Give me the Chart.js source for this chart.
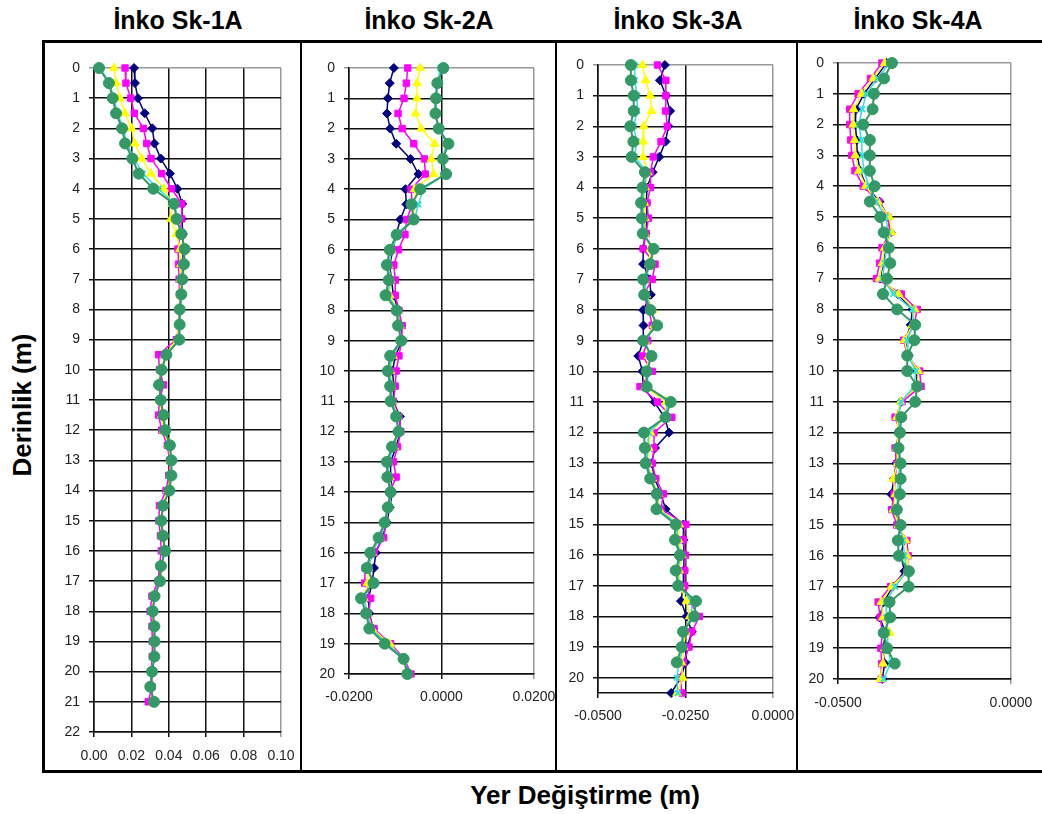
<!DOCTYPE html>
<html lang="tr">
<head>
<meta charset="utf-8">
<title>İnko Sk profilleri</title>
<script src="https://cdn.jsdelivr.net/npm/chart.js@4.4.1/dist/chart.umd.min.js"></script>
<style>
  body { margin: 0; background: #fff; font-family: 'Liberation Sans', Arial, sans-serif; }
  #page { position: relative; width: 1042px; height: 814px; overflow: hidden; }
  .frame { position: absolute; left: 42px; top: 40px; width: 1100px; height: 727px; border: 3px solid #000; }
  .sep { position: absolute; top: 42px; width: 2px; height: 730px; background: #000; }
  .title { position: absolute; top: 5px; width: 240px; text-align: center; font-weight: bold; font-size: 25px; line-height: 30px; color: #000; }
  .ylabel { position: absolute; left: -88px; top: 390px; width: 220px; text-align: center; font-weight: bold; font-size: 26px; line-height: 30px; transform: rotate(-90deg); }
  .xlabel { position: absolute; left: 385px; top: 779px; width: 400px; text-align: center; font-weight: bold; font-size: 26px; line-height: 32px; }
  canvas { position: absolute; }
</style>
</head>
<body>
<div id="page">
  <div class="frame"></div>
  <div class="sep" style="left:300px"></div>
  <div class="sep" style="left:555px"></div>
  <div class="sep" style="left:796px"></div>
  <div class="title" style="left:58px">İnko Sk-1A</div>
  <div class="title" style="left:309px">İnko Sk-2A</div>
  <div class="title" style="left:558px">İnko Sk-3A</div>
  <div class="title" style="left:798px">İnko Sk-4A</div>
  <div class="ylabel">Derinlik (m)</div>
  <div class="xlabel">Yer Değiştirme (m)</div>
  <canvas id="sk1" width="255" height="727" style="left:45px;top:43px"></canvas>
  <canvas id="sk2" width="252" height="727" style="left:303px;top:43px"></canvas>
  <canvas id="sk3" width="238" height="727" style="left:558px;top:43px"></canvas>
  <canvas id="sk4" width="243" height="727" style="left:799px;top:43px"></canvas>
</div>
<script>
// depths (m)
const depth1 = [0, 0.5, 1, 1.5, 2, 2.5, 3, 3.5, 4, 4.5, 5, 5.5, 6, 6.5, 7, 7.5, 8, 8.5, 9, 9.5, 10, 10.5, 11, 11.5, 12, 12.5, 13, 13.5, 14, 14.5, 15, 15.5, 16, 16.5, 17, 17.5, 18, 18.5, 19, 19.5, 20, 20.5, 21];
const depth2 = [0, 0.5, 1, 1.5, 2, 2.5, 3, 3.5, 4, 4.5, 5, 5.5, 6, 6.5, 7, 7.5, 8, 8.5, 9, 9.5, 10, 10.5, 11, 11.5, 12, 12.5, 13, 13.5, 14, 14.5, 15, 15.5, 16, 16.5, 17, 17.5, 18, 18.5, 19, 19.5, 20];
const depth3 = [0, 0.5, 1, 1.5, 2, 2.5, 3, 3.5, 4, 4.5, 5, 5.5, 6, 6.5, 7, 7.5, 8, 8.5, 9, 9.5, 10, 10.5, 11, 11.5, 12, 12.5, 13, 13.5, 14, 14.5, 15, 15.5, 16, 16.5, 17, 17.5, 18, 18.5, 19, 19.5, 20, 20.5];
const depth4 = depth2;

// Sk-1A
const sk1Navy = [0.0214, 0.0219, 0.0235, 0.0271, 0.0312, 0.0323, 0.0357, 0.0406, 0.0446, 0.0472, 0.0470, 0.0475, 0.0478, 0.0476, 0.0470, 0.0465, 0.0460, 0.0456, 0.0450, 0.0380, 0.0365, 0.0355, 0.0360, 0.0368, 0.0380, 0.0402, 0.0410, 0.0410, 0.0398, 0.0365, 0.0362, 0.0368, 0.0378, 0.0360, 0.0352, 0.0325, 0.0312, 0.0322, 0.0324, 0.0321, 0.0310, 0.0302, 0.0318];
const sk1Magenta = [0.0166, 0.0171, 0.0196, 0.0216, 0.0264, 0.0282, 0.0305, 0.0362, 0.0415, 0.0469, 0.0469, 0.0460, 0.0449, 0.0452, 0.0455, 0.0458, 0.0460, 0.0455, 0.0440, 0.0345, 0.0350, 0.0372, 0.0350, 0.0345, 0.0362, 0.0392, 0.0405, 0.0400, 0.0385, 0.0350, 0.0347, 0.0355, 0.0360, 0.0350, 0.0343, 0.0310, 0.0300, 0.0310, 0.0312, 0.0312, 0.0305, 0.0310, 0.0290];
const sk1Yellow = [0.0107, 0.0118, 0.0139, 0.0166, 0.0201, 0.0219, 0.0255, 0.0305, 0.0374, 0.0417, 0.0411, 0.0440, 0.0460, 0.0465, 0.0462, 0.0460, 0.0455, 0.0452, 0.0445, 0.0380, 0.0355, 0.0350, 0.0352, 0.0362, 0.0372, 0.0400, 0.0408, 0.0408, 0.0395, 0.0365, 0.0358, 0.0365, 0.0376, 0.0362, 0.0355, 0.0322, 0.0312, 0.0320, 0.0322, 0.0320, 0.0308, 0.0302, 0.0318];
const sk1Cyan = [0.0030, 0.0085, 0.0105, 0.0125, 0.0158, 0.0175, 0.0215, 0.0260, 0.0345, 0.0430, 0.0445, 0.0468, 0.0484, 0.0480, 0.0472, 0.0466, 0.0458, 0.0457, 0.0454, 0.0385, 0.0361, 0.0349, 0.0357, 0.0370, 0.0380, 0.0405, 0.0413, 0.0413, 0.0402, 0.0368, 0.0360, 0.0368, 0.0379, 0.0358, 0.0353, 0.0324, 0.0314, 0.0323, 0.0324, 0.0323, 0.0310, 0.0302, 0.0320];
const sk1Green = [0.0027, 0.0080, 0.0100, 0.0118, 0.0150, 0.0166, 0.0205, 0.0239, 0.0317, 0.0428, 0.0442, 0.0467, 0.0485, 0.0481, 0.0472, 0.0467, 0.0458, 0.0458, 0.0456, 0.0387, 0.0362, 0.0348, 0.0357, 0.0371, 0.0381, 0.0406, 0.0414, 0.0414, 0.0403, 0.0369, 0.0360, 0.0369, 0.0380, 0.0358, 0.0353, 0.0324, 0.0314, 0.0323, 0.0324, 0.0323, 0.0310, 0.0301, 0.0321];

// Sk-2A
const sk2Navy = [-0.0103, -0.0112, -0.0116, -0.0118, -0.0111, -0.0098, -0.0067, -0.0050, -0.0078, -0.0076, -0.0089, -0.0098, -0.0105, -0.0112, -0.0108, -0.0104, -0.0093, -0.0088, -0.0085, -0.0100, -0.0106, -0.0103, -0.0104, -0.0090, -0.0090, -0.0098, -0.0110, -0.0110, -0.0106, -0.0112, -0.0118, -0.0128, -0.0142, -0.0146, -0.0150, -0.0158, -0.0156, -0.0148, -0.0118, -0.0080, -0.0070];
const sk2Magenta = [-0.0073, -0.0076, -0.0081, -0.0094, -0.0085, -0.0060, -0.0037, -0.0035, -0.0066, -0.0063, -0.0075, -0.0079, -0.0093, -0.0103, -0.0100, -0.0100, -0.0092, -0.0085, -0.0086, -0.0092, -0.0098, -0.0100, -0.0104, -0.0092, -0.0088, -0.0095, -0.0104, -0.0098, -0.0112, -0.0115, -0.0120, -0.0125, -0.0145, -0.0165, -0.0166, -0.0153, -0.0158, -0.0146, -0.0110, -0.0080, -0.0066];
const sk2Yellow = [-0.0046, -0.0053, -0.0053, -0.0056, -0.0044, -0.0015, -0.0022, -0.0017, -0.0058, -0.0058, -0.0062, -0.0095, -0.0108, -0.0114, -0.0110, -0.0112, -0.0094, -0.0090, -0.0088, -0.0105, -0.0110, -0.0108, -0.0106, -0.0095, -0.0092, -0.0102, -0.0116, -0.0112, -0.0108, -0.0114, -0.0124, -0.0133, -0.0150, -0.0158, -0.0160, -0.0168, -0.0160, -0.0150, -0.0112, -0.0085, -0.0072];
const sk2Cyan = [-0.0002, -0.0010, -0.0013, -0.0014, -0.0007, 0.0012, 0.0001, 0.0008, -0.0040, -0.0050, -0.0058, -0.0094, -0.0108, -0.0115, -0.0111, -0.0116, -0.0095, -0.0091, -0.0087, -0.0107, -0.0112, -0.0108, -0.0107, -0.0096, -0.0092, -0.0104, -0.0114, -0.0114, -0.0108, -0.0114, -0.0121, -0.0133, -0.0150, -0.0157, -0.0150, -0.0168, -0.0160, -0.0152, -0.0118, -0.0080, -0.0072];
const sk2Green = [0.0004, -0.0009, -0.0012, -0.0013, -0.0006, 0.0015, 0.0003, 0.0010, -0.0046, -0.0065, -0.0060, -0.0097, -0.0112, -0.0118, -0.0114, -0.0121, -0.0097, -0.0094, -0.0087, -0.0111, -0.0116, -0.0111, -0.0110, -0.0098, -0.0093, -0.0107, -0.0118, -0.0117, -0.0110, -0.0116, -0.0123, -0.0136, -0.0154, -0.0161, -0.0147, -0.0174, -0.0163, -0.0156, -0.0123, -0.0082, -0.0074];

// Sk-3A
const sk3Navy = [-0.0309, -0.0323, -0.0306, -0.0294, -0.0299, -0.0307, -0.0325, -0.0344, -0.0360, -0.0362, -0.0360, -0.0365, -0.0371, -0.0371, -0.0352, -0.0349, -0.0371, -0.0370, -0.0371, -0.0385, -0.0373, -0.0371, -0.0339, -0.0310, -0.0297, -0.0337, -0.0347, -0.0338, -0.0320, -0.0307, -0.0256, -0.0256, -0.0254, -0.0255, -0.0256, -0.0263, -0.0247, -0.0232, -0.0245, -0.0250, -0.0263, -0.0291];
const sk3Magenta = [-0.0330, -0.0306, -0.0306, -0.0307, -0.0302, -0.0320, -0.0342, -0.0350, -0.0350, -0.0360, -0.0356, -0.0362, -0.0371, -0.0337, -0.0345, -0.0370, -0.0355, -0.0345, -0.0358, -0.0373, -0.0345, -0.0380, -0.0330, -0.0289, -0.0340, -0.0340, -0.0345, -0.0335, -0.0313, -0.0320, -0.0249, -0.0256, -0.0250, -0.0252, -0.0252, -0.0240, -0.0210, -0.0232, -0.0240, -0.0256, -0.0265, -0.0260];
const sk3Yellow = [-0.0373, -0.0364, -0.0351, -0.0347, -0.0369, -0.0371, -0.0371, -0.0358, -0.0365, -0.0368, -0.0366, -0.0366, -0.0350, -0.0355, -0.0366, -0.0362, -0.0343, -0.0340, -0.0365, -0.0355, -0.0360, -0.0365, -0.0305, -0.0310, -0.0350, -0.0355, -0.0358, -0.0345, -0.0328, -0.0325, -0.0268, -0.0270, -0.0260, -0.0268, -0.0265, -0.0247, -0.0238, -0.0250, -0.0255, -0.0262, -0.0258, -0.0274];
const sk3Cyan = [-0.0395, -0.0395, -0.0388, -0.0388, -0.0398, -0.0390, -0.0395, -0.0360, -0.0368, -0.0372, -0.0370, -0.0368, -0.0345, -0.0350, -0.0366, -0.0362, -0.0348, -0.0335, -0.0366, -0.0350, -0.0358, -0.0358, -0.0300, -0.0310, -0.0355, -0.0358, -0.0360, -0.0348, -0.0330, -0.0328, -0.0272, -0.0275, -0.0263, -0.0272, -0.0268, -0.0232, -0.0232, -0.0255, -0.0258, -0.0268, -0.0275, -0.0272];
const sk3Green = [-0.0406, -0.0406, -0.0398, -0.0398, -0.0408, -0.0399, -0.0404, -0.0366, -0.0373, -0.0377, -0.0375, -0.0372, -0.0341, -0.0351, -0.0371, -0.0368, -0.0350, -0.0331, -0.0371, -0.0347, -0.0361, -0.0361, -0.0292, -0.0307, -0.0369, -0.0366, -0.0364, -0.0351, -0.0332, -0.0333, -0.0278, -0.0280, -0.0266, -0.0278, -0.0271, -0.0220, -0.0225, -0.0257, -0.0261, -0.0275, null, null];

// Sk-4A
const sk4Navy = [-0.0360, -0.0392, -0.0425, -0.0448, -0.0450, -0.0446, -0.0444, -0.0436, -0.0418, -0.0380, -0.0355, -0.0348, -0.0362, -0.0370, -0.0378, -0.0328, -0.0285, -0.0290, -0.0305, -0.0296, -0.0272, -0.0272, -0.0318, -0.0328, -0.0326, -0.0330, -0.0332, -0.0338, -0.0346, -0.0338, -0.0325, -0.0310, -0.0318, -0.0308, -0.0342, -0.0368, -0.0380, -0.0362, -0.0370, -0.0365, -0.0372];
const sk4Magenta = [-0.0373, -0.0406, -0.0442, -0.0466, -0.0466, -0.0463, -0.0460, -0.0451, -0.0427, -0.0382, -0.0356, -0.0350, -0.0373, -0.0380, -0.0389, -0.0317, -0.0271, -0.0280, -0.0310, -0.0300, -0.0264, -0.0260, -0.0315, -0.0335, -0.0320, -0.0335, -0.0330, -0.0335, -0.0338, -0.0345, -0.0330, -0.0301, -0.0297, -0.0300, -0.0348, -0.0384, -0.0378, -0.0372, -0.0376, -0.0374, -0.0375];
const sk4Yellow = [-0.0365, -0.0398, -0.0432, -0.0455, -0.0456, -0.0452, -0.0450, -0.0440, -0.0420, -0.0385, -0.0352, -0.0345, -0.0365, -0.0372, -0.0380, -0.0325, -0.0278, -0.0285, -0.0308, -0.0298, -0.0268, -0.0270, -0.0320, -0.0330, -0.0325, -0.0330, -0.0328, -0.0340, -0.0334, -0.0340, -0.0325, -0.0305, -0.0300, -0.0298, -0.0345, -0.0375, -0.0370, -0.0350, -0.0365, -0.0370, -0.0378];
const sk4Cyan = [-0.0352, -0.0385, -0.0418, -0.0430, -0.0440, -0.0432, -0.0430, -0.0425, -0.0410, -0.0390, -0.0362, -0.0355, -0.0360, -0.0365, -0.0372, -0.0340, -0.0285, -0.0282, -0.0300, -0.0298, -0.0275, -0.0280, -0.0318, -0.0325, -0.0322, -0.0326, -0.0322, -0.0325, -0.0328, -0.0330, -0.0322, -0.0312, -0.0308, -0.0300, -0.0335, -0.0362, -0.0360, -0.0358, -0.0355, -0.0348, -0.0368];
const sk4Green = [-0.0344, -0.0367, -0.0396, -0.0400, -0.0427, -0.0408, -0.0408, -0.0408, -0.0394, -0.0408, -0.0378, -0.0368, -0.0353, -0.0349, -0.0358, -0.0370, -0.0329, -0.0277, -0.0279, -0.0300, -0.0300, -0.0271, -0.0277, -0.0317, -0.0321, -0.0325, -0.0319, -0.0319, -0.0321, -0.0330, -0.0319, -0.0327, -0.0324, -0.0295, -0.0296, -0.0351, -0.0349, -0.0368, -0.0358, -0.0336, null];

// x axis ticks per panel
const xTicks1 = [0, 0.02, 0.04, 0.06, 0.08, 0.10];
const xTicks2 = [-0.02, 0, 0.02];
const xTicks3 = [-0.05, -0.025, 0];
const xTicks4 = [-0.05, 0];

const seriesStyles = [
    { color: '#000080', pointStyle: 'rectRot', radius: 4.5, width: 1.5, order: 4 },
    { color: '#ff00ff', pointStyle: 'rect', radius: 4.5, width: 1.5, order: 3 },
    { color: '#ffff00', pointStyle: 'triangle', radius: 5, width: 1.5, order: 2 },
    { color: '#33e0e0', pointStyle: 'crossRot', radius: 4, width: 1.5, order: 1 },
    { color: '#339966', pointStyle: 'circle', radius: 5.5, width: 2, order: 0 }
];

const tickFont = { family: "'Liberation Sans', Arial, sans-serif", size: 14 };

const createProfile = (id, depths, series, xTicks, decimals, yMax, box) => {
    const datasets = series.map((vals, i) => {
        const st = seriesStyles[i];
        return {
            data: vals.map((v, j) => v === null ? null : { x: v, y: depths[j] }).filter(p => p),
            showLine: true,
            borderColor: st.color,
            backgroundColor: st.color,
            borderWidth: st.width,
            pointStyle: st.pointStyle,
            pointRadius: st.radius,
            pointBorderColor: st.color,
            pointBackgroundColor: st.color,
            pointBorderWidth: st.pointStyle === 'crossRot' ? 2 : 1,
            order: st.order,
            clip: false
        };
    });
    const lastX = xTicks[xTicks.length - 1];
    new Chart(document.getElementById(id), {
        type: 'scatter',
        data: { datasets },
        options: {
            responsive: false,
            animation: false,
            devicePixelRatio: 1,
            layout: { padding: { top: box.top, right: box.right, bottom: box.bottom, left: 0 } },
            plugins: { legend: { display: false }, tooltip: { enabled: false } },
            scales: {
                x: {
                    type: 'linear',
                    min: xTicks[0],
                    max: lastX,
                    afterBuildTicks: s => { s.ticks = xTicks.map(v => ({ value: v })); },
                    ticks: { callback: v => Number(v).toFixed(decimals), font: tickFont, color: '#222', padding: box.xPad, maxRotation: 0, autoSkip: false },
                    grid: { color: c => (c.tick && c.tick.value === lastX) ? '#999' : '#111', lineWidth: 1.5, tickLength: 5 },
                    border: { color: '#111', width: 1.5 },
                    afterFit: s => { s.height = box.xH; s.paddingLeft = 0; s.paddingRight = 0; }
                },
                y: {
                    type: 'linear',
                    reverse: true,
                    min: 0,
                    max: yMax,
                    ticks: { stepSize: 1, includeBounds: false, font: tickFont, color: '#222', padding: 9, autoSkip: false },
                    grid: { color: c => (c.tick && c.tick.value === 0) ? '#999' : '#111', lineWidth: 1.5, tickLength: 5 },
                    border: { color: '#111', width: 1.5 },
                    afterFit: s => { s.width = box.yW; s.paddingTop = 0; s.paddingBottom = 0; }
                }
            }
        }
    });
};

createProfile('sk1', depth1, [sk1Navy, sk1Magenta, sk1Yellow, sk1Cyan, sk1Green], xTicks1, 2, 22,
    { yW: 49, top: 25, right: 19, bottom: 0, xH: 38, xPad: 11 });
createProfile('sk2', depth2, [sk2Navy, sk2Magenta, sk2Yellow, sk2Cyan, sk2Green], xTicks2, 4, 20,
    { yW: 46, top: 25, right: 21, bottom: 56, xH: 40, xPad: 10 });
createProfile('sk3', depth3, [sk3Navy, sk3Magenta, sk3Yellow, sk3Cyan, sk3Green], xTicks3, 4, 20.5,
    { yW: 40, top: 22, right: 23, bottom: 37, xH: 40, xPad: 10 });
createProfile('sk4', depth4, [sk4Navy, sk4Magenta, sk4Yellow, sk4Cyan, sk4Green], xTicks4, 4, 20,
    { yW: 39, top: 20, right: 31, bottom: 51, xH: 40, xPad: 11 });
</script>
</body>
</html>
